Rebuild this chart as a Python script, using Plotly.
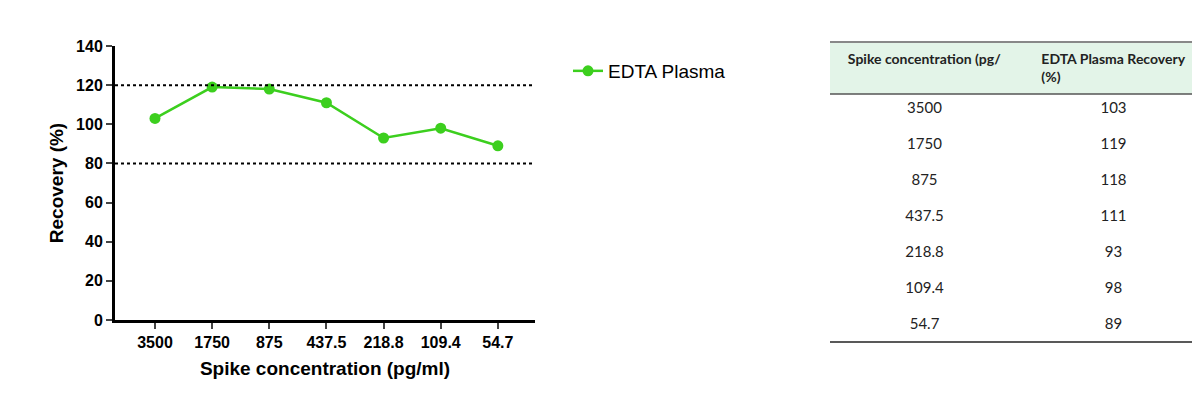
import plotly.graph_objects as go

categories = ["3500", "1750", "875", "437.5", "218.8", "109.4", "54.7"]
recovery = [103, 119, 118, 111, 93, 98, 89]
limits = [80, 120]
table_headers = ["Spike concentration (pg/", "EDTA Plasma Recovery<br>(%)"]

H = 341.0 - 30.0
def py(px):
    return (341.0 - px) / H

fig = go.Figure()
fig.add_trace(go.Scatter(x=categories, y=recovery, mode="lines+markers", name="EDTA Plasma",
                         line=dict(color="#3ccf1e", width=2.5), marker=dict(size=11, color="#3ccf1e")))
fig.add_trace(go.Table(
    domain=dict(x=[715/1093, 1], y=[py(334), py(34)]),
    columnwidth=[1, 1],
    header=dict(values=[f"<b>{h}</b>" for h in table_headers], fill_color="#e3f4e8",
                line=dict(width=0, color="rgba(0,0,0,0)"), height=52,
                font=dict(family="Lato", size=14, color="#222"), align="center"),
    cells=dict(values=[categories, [str(v) for v in recovery]], fill_color="white",
               line=dict(width=0, color="rgba(0,0,0,0)"), height=36,
               font=dict(family="Lato", size=15, color="#222"), align="center"),
))
shapes = []
for v in limits:
    shapes.append(dict(type="line", xref="x domain", yref="y", x0=0, x1=1, y0=v, y1=v,
                       line=dict(color="black", width=2, dash="dot")))
for yy, c, w in [(34, "#888", 2), (86, "#555", 1.5), (334, "#222", 1.5)]:
    shapes.append(dict(type="line", xref="paper", yref="paper", x0=715/1093, x1=1,
                       y0=py(yy), y1=py(yy), line=dict(color=c, width=w)))
fig.update_layout(
    width=1200, height=401, margin=dict(l=107, r=0, t=30, b=60),
    plot_bgcolor="white", paper_bgcolor="white", shapes=shapes,
    font=dict(family="Liberation Sans", color="black"),
    showlegend=True,
    legend=dict(x=(560-107)/1093, y=py(44), xanchor="left", yanchor="top",
                font=dict(size=19, family="Liberation Sans"), bgcolor="rgba(0,0,0,0)"),
    xaxis=dict(domain=[0, 420/1093], range=[-0.7, 6.65], showline=True, linecolor="black", linewidth=3,
               ticks="outside", ticklen=6, tickwidth=2, tickfont=dict(size=16, family="Liberation Sans", weight="bold"),
               title=dict(text="<b>Spike concentration (pg/ml)</b>", font=dict(size=19), standoff=12),
               showgrid=False, zeroline=False),
    yaxis=dict(domain=[py(312), py(38)], range=[0, 140], dtick=20, showline=True, linecolor="black", linewidth=3,
               ticks="outside", ticklen=6, tickwidth=2, tickfont=dict(size=16, family="Liberation Sans", weight="bold"),
               title=dict(text="<b>Recovery (%)</b>", font=dict(size=19), standoff=8),
               showgrid=False, zeroline=False),
)
fig.write_html("out.html")
